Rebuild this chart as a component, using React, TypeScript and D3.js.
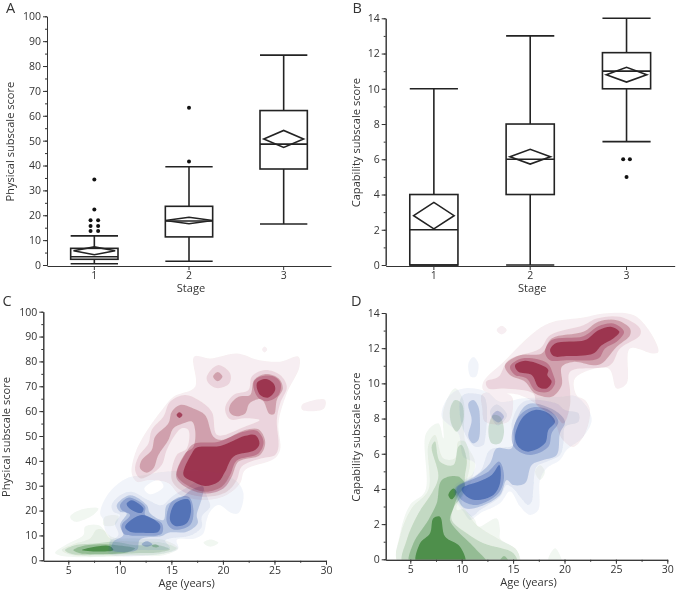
import React, { useEffect, useRef } from "react";
import * as d3 from "d3";

const stages = ["1", "2", "3"];
// [low whisker, q1, median, q3, high whisker]
const physicalBoxes = [
  [0.5, 2.3, 3.3, 6.7, 11.7],
  [1.5, 11.3, 17.7, 23.6, 39.5],
  [16.5, 38.6, 48.6, 62.1, 84.4],
];
// [centre, half height, half width in stage units]
const physicalMeans = [
  [5.7, 1.6, 0.22],
  [17.9, 1.3, 0.25],
  [50.7, 3.4, 0.21],
];
// [stage index, offset in stage units, value]
const physicalOutliers = [
  [0, 0, 34.4], [0, 0, 22.3], [0, -0.04, 18], [0, 0.04, 18], [0, -0.04, 15.7], [0, 0.04, 15.7],
  [0, -0.04, 13.7], [0, 0.04, 13.7], [1, 0, 63.2], [1, 0, 41.6],
];
const capabilityBoxes = [
  [0, 0, 2, 4, 10],
  [0, 4, 6, 8, 13],
  [7, 10, 11, 12.05, 14],
];
const capabilityMeans = [
  [2.8, 0.75, 0.21],
  [6.15, 0.42, 0.21],
  [10.8, 0.42, 0.21],
];
const capabilityOutliers = [
  [2, -0.035, 6], [2, 0.035, 6], [2, 0, 5],
];
const physicalTicks = d3.range(0, 101, 10);
const physicalMinor = d3.range(0, 101, 5);
const capabilityTicks = d3.range(0, 15, 2);
const capabilityMinor = d3.range(0, 15, 1);
const ageTicks = [5, 10, 15, 20, 25, 30];
const ageMinor = [5, 7.5, 10, 12.5, 15, 17.5, 20, 22.5, 25, 27.5, 30];

// Density contours: level -> rings -> [age, score] vertices
type Ring = number[][];
const physicalGreen: Ring[][] = [
  [
    [[3.71,3],[4.68,6.1],[6.46,10.2],[6.62,13.5],[7.92,14.2],[9.21,9.5],[11.8,8.8],[14.39,8.1],[15.68,4.8],[14.39,2.1],[11.48,1.7],[4.36,1.7]],
    [[5.17,17.5],[6.3,20.5],[7.92,20.9],[7.43,18.2],[5.65,15.5]],
    [[8.56,17.5],[9.86,17.8],[9.53,14.2],[8.4,14.2]],
    [[18.11,7.1],[18.76,8.4],[19.57,7.1],[18.76,5.5]],
  ],
  [[[4.36,4.1],[5.49,6.5],[7.11,8.8],[7.76,12.4],[8.4,12.2],[9.05,8.8],[11.8,7.5],[14.07,7.1],[15.52,4.8],[14.07,2.5],[11.48,2.1],[5.33,2.1]]],
  [[[4.68,4.1],[5.65,6.1],[7.59,6.8],[9.37,7.5],[11.48,6.1],[13.74,6.1],[14.87,4.4],[13.74,3.1],[11.48,2.8],[7.92,2.1],[5.33,2.5]]],
  [
    [[5.49,4.1],[6.3,5.7],[8.24,6.5],[9.7,6.1],[11.48,4.8],[10.67,3.1],[7.92,2.5],[6.14,2.8]],
    [[13.1,5.9],[13.42,6.5],[13.81,5.7],[13.42,5.2]],
  ],
  [[[6.3,4.1],[7.92,5.7],[9.05,5.7],[9.37,4.1],[7.92,3.5]]],
];
const physicalBlue: Ring[][] = [
  [
    [[8.08,18.9],[8.89,26.9],[10.67,33],[12.45,34.3],[14.39,35.6],[18.92,35.6],[21.19,32.3],[22,26.9],[21.51,18.9],[20.86,18.9],[19.57,22.2],[18.76,19.5],[18.43,16.2],[18.11,10.8],[17.3,8.8],[15.52,8.2],[15.68,4.8],[14.39,2.8],[8.89,2.8],[9.05,8.8],[8.56,12.2],[8.4,16.2]],
    [[12.93,26.6],[14.23,29.6],[13.74,32.3],[12.38,28.9]],
  ],
  [[[9.21,22.2],[10.02,26.2],[11.15,27.6],[12.77,24.2],[14.07,22.2],[15.04,25.6],[16.66,29.6],[17.63,31.6],[18.6,24.2],[18.76,21.6],[17.95,17.5],[17.95,13.5],[16.98,10.2],[14.87,8.8],[14.39,8.1],[14.87,4.8],[13.1,4.1],[11.96,4.1],[9.05,3.5],[9.05,7.5],[9.86,10.2],[9.53,14.9],[10.02,18.2],[9.37,19.5]]],
  [
    [[9.7,22.2],[10.99,26.2],[12.61,22.2],[12.93,18.9],[14.23,16.2],[14.55,22.2],[16.17,25.8],[16.98,28.5],[18.11,29.6],[17.95,24.9],[17.46,18.2],[17.56,14.9],[16.49,11.5],[14.71,11.1],[14.07,9.8],[11.96,8.4],[11.64,4.1],[9.21,4.1],[9.37,7.5],[10.34,10.2],[10.02,14.2],[10.67,18.9],[10.02,19.5]],
  ],
  [
    [[10.02,22.2],[10.83,25.2],[12.45,21.6],[12.45,18.2],[14.07,14.9],[14.07,10.8],[12.12,9.9],[10.34,10.8],[10.18,14.2],[10.99,18.2],[10.18,20.2]],
    [[14.55,15.5],[15.04,23.6],[16.66,25.6],[17.14,20.2],[16.82,14.2],[15.2,12.4]],
    [[12.12,6.5],[12.61,7.7],[13.16,6.5],[12.61,5.5]],
  ],
  [
    [[10.67,22.9],[11.15,24.2],[12.29,20.9],[12.12,19.1],[11.48,19.5],[10.76,21.6]],
    [[10.51,13.5],[12.12,18.2],[13.9,14.2],[13.74,11.5],[12.12,11.1],[10.99,11.5]],
    [[14.87,16.2],[15.36,22.9],[16.66,24.5],[16.91,20.2],[16.49,14.9],[15.36,13.8]],
  ],
];
const physicalRed: Ring[][] = [
  [
    [[11.15,35],[11.48,43],[12.45,51],[14.06,60.4],[15.2,65.8],[17.3,69.8],[17.2,81.9],[18.76,81.2],[21.35,83.2],[23.45,80.6],[25.55,79.9],[27.33,81.9],[27.43,77.9],[26.2,67.2],[25.39,55.1],[25.55,44.4],[24.9,40.6],[22.15,36.3],[21.67,31],[20.38,26.3],[18.43,24.3],[15.84,26.3],[14.71,31],[12.93,32.3],[11.64,31.6]],
    [[27.66,62.5],[28.63,64.2],[29.92,64.5],[29.82,61.1],[28.47,60],[27.66,60.7]],
    [[23.8,84.8],[24.03,86],[24.3,84.8],[24.03,83.6]],
  ],
  [
    [[11.48,36.3],[11.8,41.7],[12.77,47],[13.09,52.4],[14.23,57.8],[14.87,63.8],[16.33,66.5],[17.62,64.5],[18.92,59.8],[19.47,50.4],[21.99,53.5],[23.55,56.4],[22.15,57.1],[20.7,56.7],[20.21,61.1],[21.02,66.5],[22.48,68.5],[22.8,73.9],[24.1,76.5],[25.55,74.5],[26.2,69.8],[25.55,63.1],[25.23,56.4],[25.39,45.7],[25.07,42.4],[23.77,41],[21.83,37.7],[21.35,32.3],[20.38,27.6],[18.43,25.6],[16.17,27.6],[15.04,32.3],[15.52,42.4],[16.49,45],[16.65,52.4],[16,53.1],[15.36,50.4],[14.55,44.4],[14.06,38.3],[12.93,34.3],[11.96,33]],
    [[18.43,73.9],[19.5,78.5],[20.7,75.2],[20.63,71.2],[19.5,69.2],[18.6,71.2]],
  ],
  [
    [[11.96,37],[12.12,40.3],[13.09,44.4],[13.42,49.7],[14.71,55.1],[15.04,59.8],[15.84,62.5],[17.14,61.1],[18.27,58.4],[19.08,49.7],[19.89,48.4],[22.15,52.4],[23.45,52.7],[24.1,47.7],[23.61,42.4],[21.51,39.7],[20.86,33.6],[20.05,28.9],[18.27,26.9],[16.33,29.6],[15.46,33.6],[16.33,43],[17.14,45.7],[17.3,52.4],[16.98,55.8],[16.17,55.1],[15.2,53.1],[14.71,48.4],[13.74,42.4],[13.26,37],[12.61,35.2]],
    [[20.7,62.5],[21.51,65.8],[22.64,66.5],[23.03,72.5],[24.1,74.9],[25.39,73.2],[25.81,69.2],[25.23,64.5],[24.97,58.8],[24.52,58.8],[23.77,64.7],[22.58,63.1],[22.16,59.1],[21.18,58],[20.63,59.8]],
    [[19.05,73.9],[19.5,75.7],[19.95,73.9],[19.5,72]],
  ],
  [
    [[15.52,34.3],[16.49,43.7],[17.14,46.8],[19.57,47.7],[21.99,51.7],[23.29,52.1],[23.94,47.7],[23.45,43],[21.35,40.1],[20.7,34.3],[19.89,29.6],[18.27,27.6],[16.49,30.3]],
    [[22.95,71.2],[23.45,73.6],[24.9,74],[25.6,71.2],[25.4,66.5],[24.3,64],[23.4,65.5]],
  ],
  [
    [[16.17,34.3],[16.98,43],[17.46,45.4],[19.73,46],[22.15,50.1],[23.13,50.4],[23.55,47],[23.13,44.4],[21.02,41.7],[20.21,35.6],[19.57,31.6],[18.27,29.9],[17.14,31.6]],
    [[23.29,71.2],[24.1,72.9],[24.9,71.2],[25.07,68.5],[24.42,65.5],[23.61,66.5]],
    [[15.5,58.5],[15.78,59.6],[16.08,58.5],[15.78,57.2]],
  ],
];
const capabilityGreen: Ring[][] = [
  [
    [[3.84,-0.19],[3.94,1.29],[4.97,3.09],[6.43,3.85],[6.53,7.16],[7.73,7.73],[8.22,6.88],[8.22,8.49],[9.35,9.72],[10.16,9.05],[10.32,6.78],[11.3,5.55],[10.97,4.5],[10,3.18],[11.3,2.24],[11.62,1.86],[13.4,2.33],[13.73,1.67],[13.73,1.19],[15.35,0.53],[15.61,-0.19]],
    [[18.43,-0.04],[19.08,0.63],[19.63,0.15],[19.73,-0.19]],
    [[17.13,4.98],[17.62,5.36],[18.1,4.98],[17.62,4.5]],
  ],
  [[[3.84,-0.19],[4,1.29],[5.13,2.9],[6.76,3.94],[6.76,6.5],[7.4,7.07],[8.22,5.74],[9.35,5.74],[9.67,6.69],[10.32,6.69],[10.81,5.55],[10.49,4.5],[9.51,2.8],[10.16,2.84],[11.46,1.95],[13.73,1.1],[15.35,0.53],[15.51,-0.19]]],
  [
    [[4.32,-0.3],[4.65,1.1],[5.78,2.61],[7.08,3.75],[7.73,4.7],[7.08,6.4],[7.4,6.69],[7.89,5.55],[9.19,5.36],[9.67,6.4],[10,6.5],[10.49,5.64],[10.32,4.79],[10.16,3.75],[9.19,2.9],[9.03,2.24],[10.49,1.48],[12.11,0.91],[15.03,0.34],[15.35,-0.3]],
    [[8.86,8.49],[9.35,9.05],[10,8.86],[10.16,7.92],[9.51,7.25],[9.03,7.63]],
    [[12.59,7.35],[13.08,8.2],[13.73,8.1],[14.12,7.25],[13.73,6.59],[12.92,6.59]],
  ],
  [
    [[4.97,-0.3],[5.3,0.91],[6.76,2.24],[7.57,3.18],[8.05,4.5],[9.67,4.7],[10.32,4.22],[9.67,3.66],[9.19,2.9],[8.86,2.24],[9.51,1.67],[11.3,0.63],[12.5,-0.3]],
    [[13.73,-0.1],[14.12,0.19],[14.54,-0.1]],
  ],
  [
    [[5.62,-0.3],[5.95,0.91],[6.92,1.48],[7.24,2.33],[7.89,2.42],[8.38,1.29],[9.84,0.72],[10.32,-0.3]],
    [[8.7,3.66],[9.19,4.03],[9.51,3.84],[9.03,3.41]],
  ],
];
const capabilityBlue: Ring[][] = [
  [
    [[8.05,8.1],[8.86,9.34],[10.32,9.72],[12.43,9.53],[13.73,8.96],[16,9.15],[19.56,9.24],[21.19,9.24],[22.65,8.01],[21.83,6.97],[20.21,6.21],[19.56,5.64],[18.27,5.17],[17.62,4.51],[17.46,2.8],[16.65,2.52],[15.67,3],[14.7,3.85],[13.73,3.18],[11.78,2.61],[10.81,2.24],[10.16,2.71],[9.19,3.56],[9.35,4.22],[10.97,4.79],[11.3,5.46],[10.16,5.83],[9.67,7.16]],
    [[10.65,11.14],[11.13,11.5],[11.62,11.14],[11.39,10.38],[10.87,10.38]],
  ],
  [
    [[9.84,9.05],[10.32,9.39],[12.11,9.28],[12.43,8.77],[12.27,6.78],[12.11,6.5],[11.3,6.4],[10.16,7.35]],
    [[9.51,4.13],[11.78,4.98],[12.59,6.12],[13.08,6.31],[15.02,6.5],[14.86,7.73],[16,8.96],[19.24,8.86],[20.05,8.49],[21.35,8.3],[21.35,7.82],[20.05,7.54],[19.89,6.59],[19.56,5.93],[18.27,5.55],[17.29,5.27],[16.97,4.03],[16.81,3.28],[16.48,3.09],[15.67,3.56],[15.02,4.03],[14.38,4.22],[13.73,3.56],[11.78,2.8],[10.97,2.43],[10.32,2.8],[9.35,3.56]],
    [[12.76,8.4],[13.4,8.8],[14.4,8.2],[13.5,7.6]],
  ],
  [
    [[9.35,4.03],[11.3,4.7],[12.75,5.46],[13.4,6.31],[14.86,6.31],[15.19,7.73],[16.48,8.83],[19.24,8.39],[20.05,7.82],[19.56,7.16],[19.24,5.93],[17.94,5.64],[16.81,5.36],[16.16,4.32],[15.02,4.22],[14.38,4.51],[13.73,3.66],[11.78,3],[10.32,2.9],[9.51,3.56]],
    [[10.65,8.86],[11.13,9.05],[11.62,8.67],[11.78,7.73],[11.62,6.78],[11.13,6.59],[10.65,6.97],[10.97,7.92]],
    [[12.92,8.11],[13.47,8.45],[14.12,8.11],[13.57,7.77]],
  ],
  [
    [[14.86,6.97],[15.67,8.2],[16.97,8.64],[18.59,8.45],[19.4,7.82],[18.75,7.16],[18.43,6.4],[16.65,5.93],[15.19,6.31]],
    [[9.51,4.03],[11.3,4.6],[12.59,4.98],[13.66,5.55],[14.12,4.7],[13.57,3.75],[11.46,3.09],[10,3.37]],
  ],
  [
    [[15.19,6.97],[16,8.11],[17.13,8.49],[18.43,8.3],[19.08,7.82],[18.43,7.35],[18.1,6.59],[16.48,6.12],[15.51,6.4]],
    [[10,4.03],[11.62,4.41],[12.92,4.79],[13.66,5.36],[13.73,4.32],[13.08,3.66],[11.3,3.37],[10.32,3.66]],
  ],
];
const capabilityRed: Ring[][] = [
  [
    [[12.11,10.09],[14.05,11.22],[17.3,13.02],[18.92,13.5],[21.83,13.74],[23.78,13.97],[26.7,13.88],[28.32,12.93],[29.13,11.79],[28.58,11.7],[26.37,11.98],[26.05,9.99],[25.08,9.71],[24.27,10.85],[21.02,10.28],[21.19,9.33],[22,9.05],[22.48,8.48],[22,7.15],[20.86,6.39],[19.73,6.87],[19.08,7.72],[17.62,8.67],[15.67,9.33],[12.11,9.61]],
    [[13.4,13.02],[13.89,13.27],[14.38,13.02],[13.89,12.78]],
    [[12,9.4],[14.8,9.3],[15,8.7],[14.5,7.8],[12.3,7.8],[12,8.6]],
  ],
  [[[12.37,10.09],[13.57,10.37],[14.54,11.32],[17.62,11.98],[18.59,12.74],[21.83,13.31],[23.13,13.69],[25.4,13.78],[27.35,13.12],[27.35,12.74],[25.4,11.98],[24.43,11.03],[20.54,10.66],[20.54,9.61],[20.54,8.76],[19.89,7.72],[19.08,8.19],[17.3,8.76],[16.97,9.42],[14.05,9.71],[12.59,9.71]]],
  [[[14.21,11.03],[15.67,11.6],[17.78,11.7],[18.75,12.55],[21.83,12.93],[23.29,13.5],[25.08,13.59],[26.37,13.12],[26.37,12.74],[25.08,12.08],[23.62,11.13],[22.81,11.03],[20.86,11.22],[19.73,10.94],[19.73,9.9],[18.75,9.24],[17.13,9.42],[16.16,10.09],[14.7,10.47]]],
  [
    [[14.7,10.94],[15.84,11.41],[18.27,11.17],[18.92,10.47],[19.08,9.99],[18.43,9.52],[17.13,9.61],[16.32,10.28],[15.19,10.47]],
    [[18.11,11.79],[18.75,12.46],[21.83,12.68],[23.29,13.25],[24.75,13.4],[25.79,12.93],[25.08,12.36],[23.94,11.98],[23.29,11.41],[20.21,11.32],[18.59,11.32]],
  ],
  [
    [[15.19,11.03],[16.16,11.28],[18.11,10.94],[18.43,10.75],[18.33,10.47],[18.75,10.09],[18.27,9.71],[17.46,9.8],[16.81,10.47],[15.51,10.66]],
    [[18.59,11.89],[19.08,12.27],[22,12.46],[23.29,13.02],[24.59,13.21],[25.34,12.93],[24.75,12.55],[23.62,12.17],[22.81,11.7],[20.21,11.55],[18.92,11.55]],
  ],
];
const redOpacities = [0.07, 0.11, 0.29, 0.3, 0.7];
const blueOpacities = [0.06, 0.09, 0.24, 0.32, 0.62];
const greenOpacities = [0.06, 0.08, 0.18, 0.3, 0.7];
const redColor = "#8f1a38";
const blueColor = "#2f55a8";
const greenColor = "#2f7a2c";
const ink = "#222";
const textColor = "#333";
const fontFamily = "'Open Sans', sans-serif";

type Sel = d3.Selection<SVGGElement, unknown, null, undefined>;

function label(g: Sel, text: string, x: number, y: number, size: number, rotate = false, anchor = "middle") {
  g.append("text")
    .attr("transform", rotate ? `translate(${x},${y}) rotate(-90)` : `translate(${x},${y})`)
    .attr("text-anchor", anchor)
    .attr("font-size", size)
    .attr("fill", textColor)
    .text(text);
}

function styleAxis(a: Sel) {
  a.selectAll("path.domain").attr("stroke", textColor).attr("stroke-width", 1);
  a.selectAll("line").attr("stroke", textColor).attr("stroke-width", 1);
  a.selectAll("text").attr("fill", textColor).attr("font-size", 10.5).attr("font-family", fontFamily);
}

function yAxes(g: Sel, y: d3.ScaleLinear<number, number>, x0: number, major: number[], minor: number[]) {
  const m = g.append("g").attr("transform", `translate(${x0},0)`)
    .call(d3.axisLeft(y).tickValues(minor).tickFormat(() => "").tickSize(2).tickSizeOuter(0));
  const a = g.append("g").attr("transform", `translate(${x0},0)`)
    .call(d3.axisLeft(y).tickValues(major).tickFormat(d3.format("d")).tickSize(4).tickPadding(2).tickSizeOuter(0));
  styleAxis(m as any);
  styleAxis(a as any);
  g.append("line").attr("x1", x0).attr("x2", x0).attr("y1", y.range()[0]).attr("y2", y.range()[0] + 1).attr("stroke", textColor);
}

function boxPanel(
  g: Sel, letter: string, yTitle: string, boxes: number[][], means: number[][], outliers: number[][],
  major: number[], minor: number[], domainMax: number, left: number, right: number, top: number,
  titleX: number, letterX: number,
) {
  const bottom = 265;
  const x = d3.scaleBand<string>().domain(stages).range([left, right]);
  const y = d3.scaleLinear().domain([0, domainMax]).range([bottom, top]);
  const cx = (i: number) => (x(stages[i]) as number) + x.bandwidth() / 2;
  const unit = x.bandwidth();
  const bw = unit * 0.5;
  yAxes(g, y, left, major, minor);
  const xa = g.append("g").attr("transform", `translate(0,${bottom + 1})`)
    .call(d3.axisBottom(x).tickSize(4).tickPadding(2).tickSizeOuter(0));
  styleAxis(xa as any);
  boxes.forEach((b, i) => {
    const c = cx(i);
    const s = g.append("g").attr("fill", "none").attr("stroke", ink).attr("stroke-width", 1.6);
    s.append("line").attr("x1", c).attr("x2", c).attr("y1", y(b[0])).attr("y2", y(b[1]));
    s.append("line").attr("x1", c).attr("x2", c).attr("y1", y(b[3])).attr("y2", y(b[4]));
    [b[0], b[4]].forEach((v) => s.append("line").attr("x1", c - bw / 2).attr("x2", c + bw / 2).attr("y1", y(v)).attr("y2", y(v)));
    s.append("rect").attr("x", c - bw / 2).attr("width", bw).attr("y", y(b[3])).attr("height", y(b[1]) - y(b[3]));
    s.append("line").attr("x1", c - bw / 2).attr("x2", c + bw / 2).attr("y1", y(b[2])).attr("y2", y(b[2]));
    const [mc, mh, mw] = means[i];
    const pts: [number, number][] = [[c - mw * unit, y(mc)], [c, y(mc + mh)], [c + mw * unit, y(mc)], [c, y(mc - mh)]];
    s.append("path").attr("d", d3.line()(pts) + "Z");
  });
  g.selectAll("circle.o").data(outliers).join("circle")
    .attr("cx", (d) => cx(d[0]) + d[1] * unit).attr("cy", (d) => y(d[2])).attr("r", 2).attr("fill", "#111");
  label(g, yTitle, titleX, (bottom + top) / 2 + 1, 11.1, true);
  label(g, "Stage", (left + right) / 2 + 2, 291.5, 11.1);
  label(g, letter, letterX, 12.5, 14.5, false, "start");
}

function densityPanel(
  g: Sel, id: string, letter: string, yTitle: string, layers: [Ring[][], string, number[]][],
  major: number[], minor: number[], domainMax: number, left: number, x5: number, x30: number,
  bottom: number, top: number, titleX: number, letterX: number,
) {
  const x = d3.scaleLinear().domain([5, 30]).range([x5, x30]);
  const y = d3.scaleLinear().domain([0, domainMax]).range([bottom, top]);
  const defs = g.append("defs");
  defs.append("clipPath").attr("id", id).append("rect").attr("x", left).attr("y", top - 2).attr("width", x30 - left + 2).attr("height", bottom - top + 2.5);
  defs.append("filter").attr("id", id + "b").append("feGaussianBlur").attr("stdDeviation", 0.6);
  const plot = g.append("g").attr("clip-path", `url(#${id})`).append("g").attr("filter", `url(#${id}b)`);
  const ringPath = d3.line<number[]>().x((d) => x(d[0])).y((d) => y(d[1])).curve(d3.curveCatmullRomClosed.alpha(0.5));
  layers.forEach(([levels, color, opacities]) => {
    levels.forEach((rings, i) => {
      plot.append("path")
        .attr("d", rings.map((r) => ringPath(r)).join(" "))
        .attr("fill", color)
        .attr("fill-opacity", opacities[i]);
    });
  });
  yAxes(g, y, left, major, minor);
  const full = d3.scaleLinear().domain([x.invert(left), 30]).range([left, x30]);
  const m = g.append("g").attr("transform", `translate(0,${bottom + 0.5})`)
    .call(d3.axisBottom(full).tickValues(ageMinor).tickFormat(() => "").tickSize(2).tickSizeOuter(0));
  const a = g.append("g").attr("transform", `translate(0,${bottom + 0.5})`)
    .call(d3.axisBottom(full).tickValues(ageTicks).tickFormat(d3.format("d")).tickSize(4).tickPadding(2).tickSizeOuter(0));
  styleAxis(m as any);
  styleAxis(a as any);
  label(g, yTitle, titleX, (bottom + top) / 2 + 1, 11.1, true);
  label(g, "Age (years)", (left + x30) / 2 + 2, bottom + 27, 11.1);
  label(g, letter, letterX, 306, 14.5, false, "start");
}

export default function App() {
  const ref = useRef<SVGSVGElement>(null);
  useEffect(() => {
    const svg = d3.select(ref.current as SVGSVGElement);
    svg.selectAll("*").remove();
    const root = svg.append("g").attr("font-family", fontFamily).attr("opacity", 0.995) as unknown as Sel;
    boxPanel(root.append("g") as any, "A", "Physical subscale score", physicalBoxes, physicalMeans, physicalOutliers,
      physicalTicks, physicalMinor, 100, 47, 331, 16.3, 13.5, 6);
    boxPanel(root.append("g") as any, "B", "Capability subscale score", capabilityBoxes, capabilityMeans, capabilityOutliers,
      capabilityTicks, capabilityMinor, 14, 385.7, 674.7, 18.3, 360, 352.5);
    densityPanel(root.append("g") as any, "clipC", "C", "Physical subscale score",
      [[physicalGreen, greenColor, greenOpacities], [physicalBlue, blueColor, blueOpacities], [physicalRed, redColor, redOpacities]],
      physicalTicks, physicalMinor, 100, 43.3, 68.3, 326, 560.3, 311.7, 9.5, 2.5);
    densityPanel(root.append("g") as any, "clipD", "D", "Capability subscale score",
      [[capabilityGreen, greenColor, greenOpacities], [capabilityBlue, blueColor, blueOpacities], [capabilityRed, redColor, redOpacities]],
      capabilityTicks, capabilityMinor, 14, 385.7, 410.3, 667.3, 559.3, 313, 360, 351);
  }, []);
  return <svg ref={ref} width={676} height={592} style={{ position: "absolute", left: 0, top: 0 }} />;
}
